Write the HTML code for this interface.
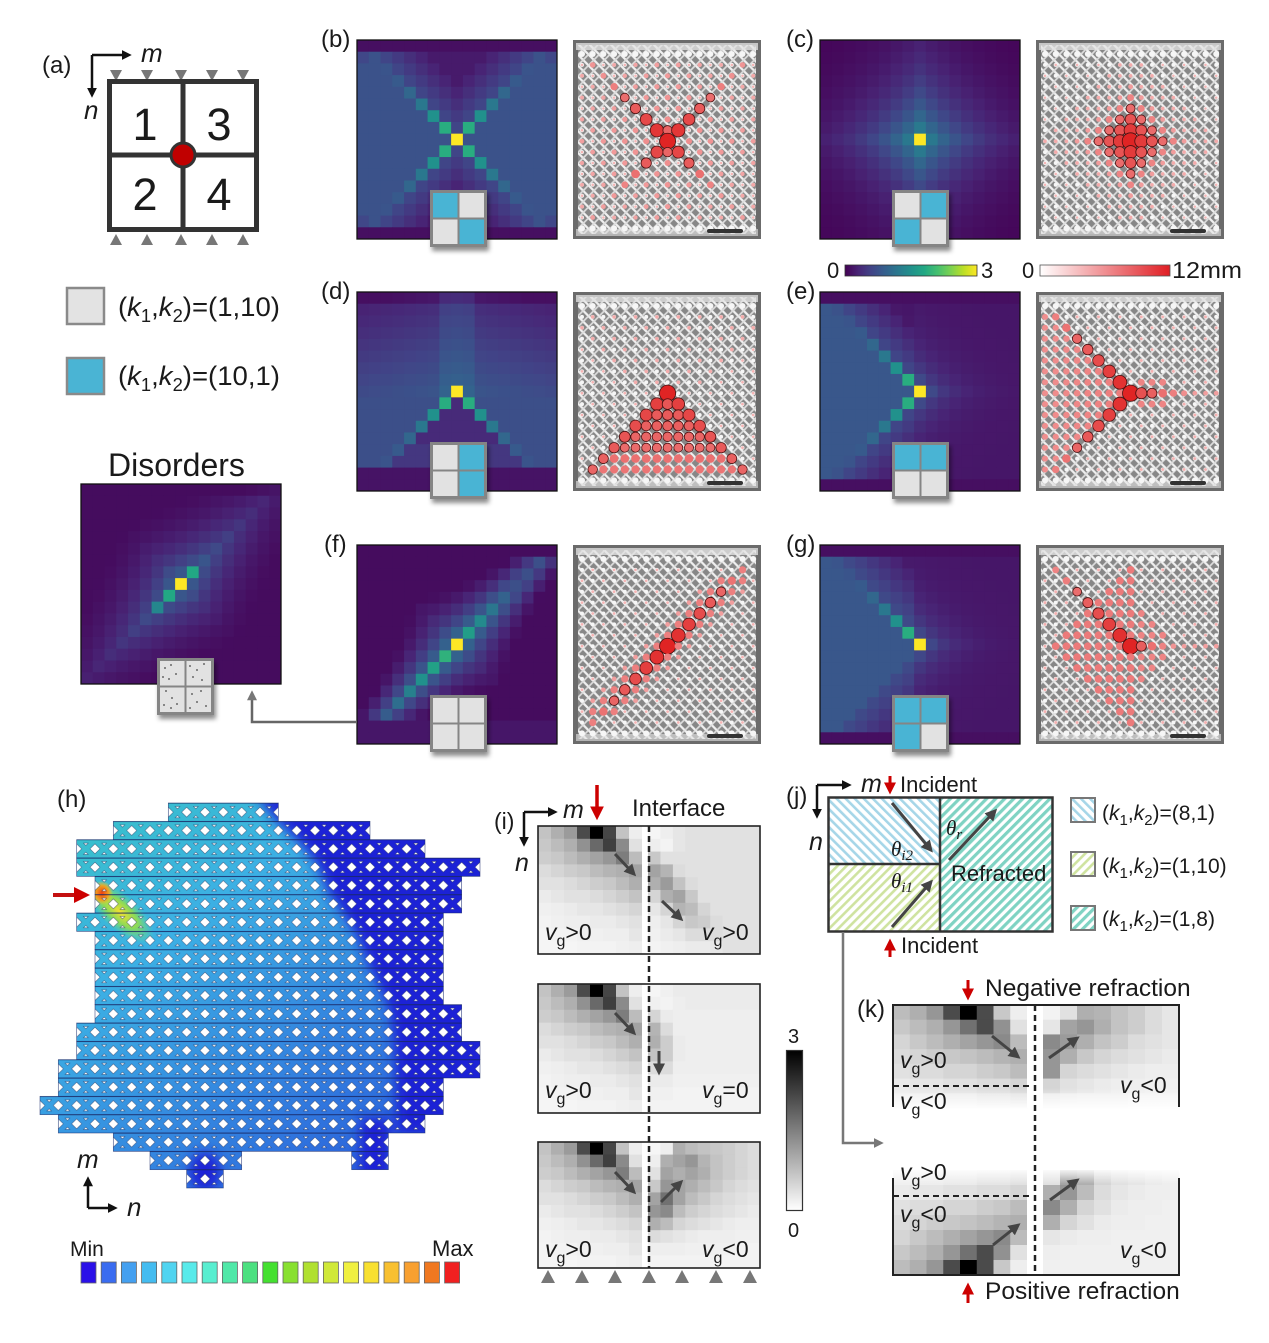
<!DOCTYPE html>
<html><head><meta charset="utf-8">
<style>
html,body{margin:0;padding:0;background:#fff;}
svg{display:block;}
text{font-family:"Liberation Sans",Arial,sans-serif;fill:#1a1a1a;}
.it{font-style:italic;}
.th{font-family:"Liberation Serif",serif;font-style:italic;}
</style></head><body>
<svg id="s" width="1269" height="1343" viewBox="0 0 1269 1343" xmlns="http://www.w3.org/2000/svg">
<defs>
 <linearGradient id="gvir" x1="0" x2="1" y1="0" y2="0">
  <stop offset="0" stop-color="#440154"/><stop offset="0.1" stop-color="#482475"/><stop offset="0.2" stop-color="#414487"/><stop offset="0.3" stop-color="#355f8d"/><stop offset="0.4" stop-color="#2a788e"/><stop offset="0.5" stop-color="#21918c"/><stop offset="0.6" stop-color="#22a884"/><stop offset="0.7" stop-color="#44bf70"/><stop offset="0.8" stop-color="#7ad151"/><stop offset="0.9" stop-color="#bddf26"/><stop offset="1" stop-color="#fde725"/>
 </linearGradient>
 <linearGradient id="gred" x1="0" x2="1" y1="0" y2="0"><stop offset="0" stop-color="#ffffff"/><stop offset="1" stop-color="#e01e24"/></linearGradient>
 <linearGradient id="ggray" x1="0" x2="0" y1="0" y2="1"><stop offset="0" stop-color="#000"/><stop offset="1" stop-color="#fff"/></linearGradient>
 <linearGradient id="fadeDown" x1="0" x2="0" y1="0" y2="1"><stop offset="0" stop-color="#fff" stop-opacity="0"/><stop offset="1" stop-color="#fff" stop-opacity="1"/></linearGradient>
 <linearGradient id="fadeUp" x1="0" x2="0" y1="1" y2="0"><stop offset="0" stop-color="#fff" stop-opacity="0"/><stop offset="1" stop-color="#fff" stop-opacity="1"/></linearGradient>
 <linearGradient id="hgrad" gradientUnits="userSpaceOnUse" x1="60" y1="820" x2="330" y2="1180">
  <stop offset="0" stop-color="#38c2c8"/><stop offset="0.35" stop-color="#3cb0e4"/><stop offset="0.7" stop-color="#3488e0"/><stop offset="1" stop-color="#2c66dc"/>
 </linearGradient>
 <radialGradient id="hot1"><stop offset="0" stop-color="#f2e030"/><stop offset="0.5" stop-color="#9ae040" stop-opacity="0.85"/><stop offset="1" stop-color="#50e0a0" stop-opacity="0"/></radialGradient>
 <radialGradient id="hot2"><stop offset="0" stop-color="#f04010"/><stop offset="0.6" stop-color="#f0a020"/><stop offset="1" stop-color="#f0d030" stop-opacity="0"/></radialGradient>
 <filter id="blur6" x="-20%" y="-20%" width="140%" height="140%"><feGaussianBlur stdDeviation="6"/></filter>
 <filter id="sh" x="-30%" y="-30%" width="160%" height="170%"><feDropShadow dx="2" dy="4" stdDeviation="2.5" flood-color="#000" flood-opacity="0.45"/></filter>
 <pattern id="latp" patternUnits="userSpaceOnUse" width="10.7" height="10.9">
  <line x1="-1" y1="-1" x2="11.7" y2="11.9" stroke="#f0f0f0" stroke-width="2.2"/>
  <line x1="11.7" y1="-1" x2="-1" y2="11.9" stroke="#dcdcdc" stroke-width="1.8"/>
 </pattern>
 <pattern id="hp" patternUnits="userSpaceOnUse" x="40" y="803" width="18.333" height="18.333">
  <g fill="#fff" stroke="#1b2550" stroke-width="0.5" stroke-opacity="0.7">
   <polygon points="-5.0,9.17 0,4.2 5.0,9.17 0,14.1"/>
   <polygon points="13.33,9.17 18.333,4.2 23.33,9.17 18.333,14.1"/>
   <polygon points="6.8,3.5 11.53,3.5 9.17,5.8"/>
   <polygon points="6.8,14.8 11.53,14.8 9.17,12.5"/>
  </g>
  <line x1="0" y1="0.3" x2="18.333" y2="0.3" stroke="#1b2550" stroke-width="0.6" stroke-opacity="0.6"/>
 </pattern>
 <pattern id="pblue" patternUnits="userSpaceOnUse" width="6.4" height="6.4" patternTransform="rotate(-45)">
  <rect width="6.4" height="6.4" fill="#fff"/><rect width="2.6" height="6.4" fill="#a6d6e8"/>
 </pattern>
 <pattern id="pgreen" patternUnits="userSpaceOnUse" width="6.4" height="6.4" patternTransform="rotate(45)">
  <rect width="6.4" height="6.4" fill="#fff"/><rect width="2.6" height="6.4" fill="#cfe3a0"/>
 </pattern>
 <pattern id="pteal" patternUnits="userSpaceOnUse" width="6.4" height="6.4" patternTransform="rotate(45)">
  <rect width="6.4" height="6.4" fill="#fff"/><rect width="3.2" height="6.4" fill="#7fd3c3"/>
 </pattern>
 <marker id="ahk" markerWidth="4" markerHeight="4" refX="2.5" refY="2" orient="auto" markerUnits="strokeWidth"><path d="M0,0 L4,2 L0,4 z" fill="#111"/></marker>
 <marker id="ahd" markerWidth="4" markerHeight="4" refX="2.5" refY="2" orient="auto" markerUnits="strokeWidth"><path d="M0,0 L4,2 L0,4 z" fill="#444"/></marker>
 <marker id="ahg" markerWidth="4" markerHeight="4" refX="2.5" refY="2" orient="auto" markerUnits="strokeWidth"><path d="M0,0 L4,2 L0,4 z" fill="#777"/></marker>
 <marker id="ahr" markerWidth="4" markerHeight="4" refX="2.5" refY="2" orient="auto" markerUnits="strokeWidth"><path d="M0,0 L4,2 L0,4 z" fill="#c00"/></marker>
 <clipPath id="hclip"></clipPath>
</defs>

<g id="dyn"></g>

<!-- ===== Panel (a) ===== -->
<text x="42" y="73" font-size="24">(a)</text>
<g fill="#777">
 <polygon points="110,70 122,70 116,81"/><polygon points="141,70 153,70 147,81"/><polygon points="175,70 187,70 181,81"/><polygon points="206,70 218,70 212,81"/><polygon points="237,70 249,70 243,81"/>
 <polygon points="110,245 122,245 116,234"/><polygon points="141,245 153,245 147,234"/><polygon points="175,245 187,245 181,234"/><polygon points="206,245 218,245 212,234"/><polygon points="237,245 249,245 243,234"/>
</g>
<rect x="109.5" y="81.5" width="147" height="148" fill="#fff" stroke="#333" stroke-width="5"/>
<line x1="183" y1="81" x2="183" y2="230" stroke="#333" stroke-width="5"/>
<line x1="109" y1="155" x2="257" y2="155" stroke="#333" stroke-width="5"/>
<circle cx="183" cy="155" r="12" fill="#c00000" stroke="#333" stroke-width="3"/>
<text x="145" y="140" font-size="45" text-anchor="middle">1</text>
<text x="219" y="140" font-size="45" text-anchor="middle">3</text>
<text x="145" y="210" font-size="45" text-anchor="middle">2</text>
<text x="219" y="210" font-size="45" text-anchor="middle">4</text>
<path d="M92,55 V94" stroke="#111" stroke-width="2.5" fill="none" marker-end="url(#ahk)"/>
<path d="M92,55 H128" stroke="#111" stroke-width="2.5" fill="none" marker-end="url(#ahk)"/>
<text x="141" y="62" font-size="26" class="it">m</text>
<text x="84" y="119" font-size="26" class="it">n</text>

<rect x="67" y="288" width="37" height="36" fill="#e3e3e3" stroke="#8a8a8a" stroke-width="2.5"/>
<rect x="67" y="358" width="37" height="36" fill="#4ab4d4" stroke="#8a8a8a" stroke-width="2.5"/>
<text x="118" y="316" font-size="27" textLength="162" lengthAdjust="spacingAndGlyphs">(<tspan class="it">k</tspan><tspan font-size="18" dy="6">1</tspan><tspan dy="-6">,</tspan><tspan class="it">k</tspan><tspan font-size="18" dy="6">2</tspan><tspan dy="-6">)=(1,10)</tspan></text>
<text x="118" y="385" font-size="27" textLength="162" lengthAdjust="spacingAndGlyphs">(<tspan class="it">k</tspan><tspan font-size="18" dy="6">1</tspan><tspan dy="-6">,</tspan><tspan class="it">k</tspan><tspan font-size="18" dy="6">2</tspan><tspan dy="-6">)=(10,1)</tspan></text>

<text x="108" y="476" font-size="32">Disorders</text>

<!-- panel labels -->
<text x="321" y="47" font-size="24">(b)</text>
<text x="786" y="47" font-size="24">(c)</text>
<text x="321" y="299" font-size="24">(d)</text>
<text x="786" y="299" font-size="24">(e)</text>
<text x="324" y="552" font-size="24">(f)</text>
<text x="786" y="552" font-size="24">(g)</text>

<!-- colorbars -->
<rect x="845" y="265" width="132" height="11" fill="url(#gvir)" stroke="#333" stroke-width="0.8"/>
<rect x="1040" y="265" width="130" height="11" fill="url(#gred)" stroke="#555" stroke-width="0.8"/>
<text x="827" y="278" font-size="22">0</text>
<text x="981" y="278" font-size="22">3</text>
<text x="1022" y="278" font-size="22">0</text>
<text x="1172" y="278" font-size="23" textLength="70" lengthAdjust="spacingAndGlyphs">12mm</text>

<!-- connector f -> disorders -->
<path d="M357,722 H252 V694" stroke="#666" stroke-width="2.5" fill="none" marker-end="url(#ahg)"/>

<!-- ===== Panel (h) ===== -->
<text x="57" y="807" font-size="24">(h)</text>
<g id="hgrp" clip-path="url(#hclip)">
 <rect x="30" y="795" width="470" height="400" fill="url(#hgrad)"/>
 <g filter="url(#blur6)" fill="#1e24d6">
  <polygon points="255,795 278,822 297,840 313,858 323,877 330,895 343,913 355,932 363,950 370,968 380,987 388,1005 392,1023 395,1060 397,1135 500,1135 500,795"/>
  <rect x="360" y="1118" width="30" height="80"/>
  <ellipse cx="205" cy="1172" rx="16" ry="20"/>
 </g>
 <ellipse cx="120" cy="912" rx="44" ry="18" transform="rotate(42 120 912)" fill="url(#hot1)"/>
 <ellipse cx="102" cy="893" rx="11" ry="12" fill="url(#hot2)"/>
 <rect x="30" y="795" width="470" height="400" fill="url(#hp)"/>
</g>
<g id="houtline"></g>
<path d="M53,895 H84" stroke="#c41010" stroke-width="4" fill="none" marker-end="url(#ahr)"/>
<path d="M88,1208 V1180" stroke="#111" stroke-width="2.5" fill="none" marker-end="url(#ahk)"/>
<path d="M88,1208 H114" stroke="#111" stroke-width="2.5" fill="none" marker-end="url(#ahk)"/>
<text x="77" y="1168" font-size="26" class="it">m</text>
<text x="127" y="1216" font-size="26" class="it">n</text>
<text x="70" y="1256" font-size="21">Min</text>
<text x="432" y="1256" font-size="22">Max</text>
<g id="hbar"></g>

<!-- ===== Panel (i) ===== -->
<text x="494" y="829" font-size="23">(i)</text>
<path d="M524,812 V843" stroke="#111" stroke-width="2.5" fill="none" marker-end="url(#ahk)"/>
<path d="M524,812 H554" stroke="#111" stroke-width="2.5" fill="none" marker-end="url(#ahk)"/>
<text x="563" y="818" font-size="25" class="it">m</text>
<text x="515" y="871" font-size="25" class="it">n</text>
<text x="632" y="816" font-size="24">Interface</text>
<path d="M597,785 V815" stroke="#c00" stroke-width="3.5" fill="none" marker-end="url(#ahr)"/>
<g id="ig"></g>
<line x1="649" y1="826" x2="649" y2="1268" stroke="#222" stroke-width="2.5" stroke-dasharray="6,4"/>
<g stroke="#444" stroke-width="3" fill="none">
 <path d="M615,854 L633,873" marker-end="url(#ahd)"/>
 <path d="M662,901 L680,918" marker-end="url(#ahd)"/>
 <path d="M615,1013 L633,1032" marker-end="url(#ahd)"/>
 <path d="M659,1051 V1071" marker-end="url(#ahd)"/>
 <path d="M615,1172 L633,1191" marker-end="url(#ahd)"/>
 <path d="M661,1202 L680,1183" marker-end="url(#ahd)"/>
</g>
<g font-size="23">
 <text x="545" y="940"><tspan class="it">v</tspan><tspan font-size="16" dy="6">g</tspan><tspan dy="-6">&gt;0</tspan></text>
 <text x="702" y="940"><tspan class="it">v</tspan><tspan font-size="16" dy="6">g</tspan><tspan dy="-6">&gt;0</tspan></text>
 <text x="545" y="1098"><tspan class="it">v</tspan><tspan font-size="16" dy="6">g</tspan><tspan dy="-6">&gt;0</tspan></text>
 <text x="702" y="1098"><tspan class="it">v</tspan><tspan font-size="16" dy="6">g</tspan><tspan dy="-6">=0</tspan></text>
 <text x="545" y="1257"><tspan class="it">v</tspan><tspan font-size="16" dy="6">g</tspan><tspan dy="-6">&gt;0</tspan></text>
 <text x="702" y="1257"><tspan class="it">v</tspan><tspan font-size="16" dy="6">g</tspan><tspan dy="-6">&lt;0</tspan></text>
</g>
<g fill="#777">
 <polygon points="541,1283 555,1283 548,1270"/><polygon points="575,1283 589,1283 582,1270"/><polygon points="608,1283 622,1283 615,1270"/><polygon points="642,1283 656,1283 649,1270"/><polygon points="675,1283 689,1283 682,1270"/><polygon points="709,1283 723,1283 716,1270"/><polygon points="743,1283 757,1283 750,1270"/>
</g>
<rect x="786.5" y="1050.5" width="16" height="160" fill="url(#ggray)" stroke="#333" stroke-width="1.2"/>
<text x="788" y="1043" font-size="20">3</text>
<text x="788" y="1237" font-size="20">0</text>

<!-- ===== Panel (j) ===== -->
<text x="786" y="804" font-size="24">(j)</text>
<path d="M817,785 V815" stroke="#111" stroke-width="2.5" fill="none" marker-end="url(#ahk)"/>
<path d="M817,785 H848" stroke="#111" stroke-width="2.5" fill="none" marker-end="url(#ahk)"/>
<text x="861" y="792" font-size="25" class="it">m</text>
<text x="809" y="850" font-size="25" class="it">n</text>
<path d="M890,776 V790" stroke="#c00" stroke-width="3" fill="none" marker-end="url(#ahr)"/>
<text x="900" y="792" font-size="22">Incident</text>
<rect x="828" y="797" width="112" height="67" fill="url(#pblue)"/>
<rect x="828" y="864" width="112" height="68" fill="url(#pgreen)"/>
<rect x="940" y="797" width="113" height="135" fill="url(#pteal)"/>
<rect x="828.5" y="797.5" width="224" height="134" fill="none" stroke="#333" stroke-width="2.5"/>
<line x1="940" y1="797" x2="940" y2="932" stroke="#333" stroke-width="2.5"/>
<line x1="828" y1="864" x2="940" y2="864" stroke="#333" stroke-width="2.5"/>
<g stroke="#444" stroke-width="3" fill="none">
 <path d="M892,803 L930,849" marker-end="url(#ahd)"/>
 <path d="M892,927 L930,883" marker-end="url(#ahd)"/>
 <path d="M949,860 L994,812" marker-end="url(#ahd)"/>
</g>
<text x="891" y="856" font-size="21" class="th">θ<tspan font-size="15" dy="4">i2</tspan></text>
<text x="946" y="835" font-size="21" class="th">θ<tspan font-size="15" dy="4">r</tspan></text>
<text x="891" y="888" font-size="21" class="th">θ<tspan font-size="15" dy="4">i1</tspan></text>
<text x="951" y="881" font-size="22">Refracted</text>
<path d="M890,957 V943" stroke="#c00" stroke-width="3" fill="none" marker-end="url(#ahr)"/>
<text x="901" y="953" font-size="22">Incident</text>
<rect x="1071" y="798" width="24" height="24" fill="url(#pblue)" stroke="#777" stroke-width="2"/>
<rect x="1071" y="852" width="24" height="24" fill="url(#pgreen)" stroke="#777" stroke-width="2"/>
<rect x="1071" y="906" width="24" height="24" fill="url(#pteal)" stroke="#777" stroke-width="2"/>
<g font-size="21">
<text x="1102" y="820">(<tspan class="it">k</tspan><tspan font-size="15" dy="5">1</tspan><tspan dy="-5">,</tspan><tspan class="it">k</tspan><tspan font-size="15" dy="5">2</tspan><tspan dy="-5">)=(8,1)</tspan></text>
<text x="1102" y="873">(<tspan class="it">k</tspan><tspan font-size="15" dy="5">1</tspan><tspan dy="-5">,</tspan><tspan class="it">k</tspan><tspan font-size="15" dy="5">2</tspan><tspan dy="-5">)=(1,10)</tspan></text>
<text x="1102" y="926">(<tspan class="it">k</tspan><tspan font-size="15" dy="5">1</tspan><tspan dy="-5">,</tspan><tspan class="it">k</tspan><tspan font-size="15" dy="5">2</tspan><tspan dy="-5">)=(1,8)</tspan></text>
</g>
<path d="M843,932 V1143 H880" stroke="#777" stroke-width="2.5" fill="none" marker-end="url(#ahg)"/>

<!-- ===== Panel (k) ===== -->
<text x="857" y="1017" font-size="24">(k)</text>
<path d="M968,980 V996" stroke="#c00" stroke-width="3" fill="none" marker-end="url(#ahr)"/>
<text x="985" y="996" font-size="24.5">Negative refraction</text>
<g id="kg"></g>
<rect x="893" y="1088" width="287" height="22" fill="url(#fadeDown)"/>
<rect x="893" y="1168" width="287" height="16" fill="url(#fadeUp)"/>
<g stroke="#222" stroke-width="2" fill="none">
 <path d="M893,1107 V1005 H1179 V1107"/>
 <path d="M893,1178 V1275 H1179 V1178"/>
</g>
<g stroke="#222" stroke-width="2" stroke-dasharray="6,4" fill="none">
 <line x1="893" y1="1086" x2="1032" y2="1086"/>
 <line x1="893" y1="1196" x2="1032" y2="1196"/>
</g>
<line x1="1035" y1="1005" x2="1035" y2="1275" stroke="#222" stroke-width="2.5" stroke-dasharray="6,4"/>
<g stroke="#444" stroke-width="3" fill="none">
 <path d="M992,1036 L1017,1056" marker-end="url(#ahd)"/>
 <path d="M1049,1058 L1076,1039" marker-end="url(#ahd)"/>
 <path d="M993,1245 L1017,1226" marker-end="url(#ahd)"/>
 <path d="M1050,1200 L1076,1181" marker-end="url(#ahd)"/>
</g>
<g font-size="23">
 <text x="900" y="1068"><tspan class="it">v</tspan><tspan font-size="16" dy="6">g</tspan><tspan dy="-6">&gt;0</tspan></text>
 <text x="900" y="1109"><tspan class="it">v</tspan><tspan font-size="16" dy="6">g</tspan><tspan dy="-6">&lt;0</tspan></text>
 <text x="1120" y="1093"><tspan class="it">v</tspan><tspan font-size="16" dy="6">g</tspan><tspan dy="-6">&lt;0</tspan></text>
 <text x="900" y="1180"><tspan class="it">v</tspan><tspan font-size="16" dy="6">g</tspan><tspan dy="-6">&gt;0</tspan></text>
 <text x="900" y="1222"><tspan class="it">v</tspan><tspan font-size="16" dy="6">g</tspan><tspan dy="-6">&lt;0</tspan></text>
 <text x="1120" y="1258"><tspan class="it">v</tspan><tspan font-size="16" dy="6">g</tspan><tspan dy="-6">&lt;0</tspan></text>
</g>
<path d="M968,1303 V1287" stroke="#c00" stroke-width="3" fill="none" marker-end="url(#ahr)"/>
<text x="985" y="1299" font-size="24.5">Positive refraction</text>
</svg>
<script>
(function(){
const NS='http://www.w3.org/2000/svg';
const D=document.getElementById('dyn');
function el(tag,attrs,parent){const e=document.createElementNS(NS,tag);for(const k in attrs)e.setAttribute(k,attrs[k]);(parent||D).appendChild(e);return e;}
const V=[[68,1,84],[72,36,117],[65,68,135],[53,95,141],[42,120,142],[33,145,140],[34,168,132],[68,191,112],[122,209,81],[189,223,38],[253,231,37]];
function vir(t){t=Math.max(0,Math.min(1,t));const x=t*10;const i=Math.min(9,Math.floor(x));const f=x-i;const a=V[i],b=V[i+1];
 return 'rgb('+Math.round(a[0]+(b[0]-a[0])*f)+','+Math.round(a[1]+(b[1]-a[1])*f)+','+Math.round(a[2]+(b[2]-a[2])*f)+')';}
function heat(x0,y0,w,h,fn){const n=17,cw=w/n,ch=h/n;
 for(let r=0;r<n;r++)for(let c=0;c<n;c++){el('rect',{x:(x0+c*cw).toFixed(2),y:(y0+r*ch).toFixed(2),width:(cw+0.5).toFixed(2),height:(ch+0.5).toFixed(2),fill:vir(fn(r-8,c-8,r,c))});}
 el('rect',{x:x0,y:y0,width:w,height:h,fill:'none',stroke:'#111','stroke-width':1.3});}
const ARM=[0,0.62,0.5,0.4,0.33,0.28,0.26,0.25,0.24];
const A=Math.abs;
function hb(dr,dc,r){const a=A(dr),b=A(dc);if(!a&&!b)return 1;if(r==0||r==16)return 0.04;
 if(a==b)return Math.max(ARM[a],a>=5?0.24:0);if(a<b)return 0.25-((r==1||r==15)?0.04:0);return Math.max(0.07,0.24-0.035*(a-b));}
function hc(dr,dc){const a=A(dr),b=A(dc);if(!a&&!b)return 1;const d=a*0.95+b;return Math.max(0.015,0.40*Math.exp(-(d-1)/4.6));}
function hd(dr,dc,r){const a=A(dr),b=A(dc);if(!a&&!b)return 1;if(r>=15)return 0.05;
 if(dr>0){if(b==dr)return ARM[a];if(b<dr)return a>=5?0.16:0.12;return 0.24;}
 let v=0.27-0.018*a-0.006*b;if(b<=1)v+=0.05;if(r==0)v-=0.05;return Math.max(0.04,v);}
function he(dr,dc,r){const a=A(dr),b=A(dc);if(!a&&!b)return 1;if(r==0||r==16)return 0.04;
 if(dc<0){if(a==b)return Math.max(ARM[a],0.25);if(a<b)return 0.27;return Math.max(0.06,0.24-0.035*(a-b));}
 return Math.max(0.04,0.06+0.25*Math.exp(-(a+b)/2.2));}
function hf(dr,dc,r){const a=A(dr),b=A(dc),p=A(dr+dc),q=A(dr-dc);if(!a&&!b)return 1;if(r==0)return 0.03;if(r>=15)return 0.06;
 if(p==0)return dr>0?Math.max(0.26,0.64-0.07*(a-1)):Math.max(0.24,0.55-0.08*(a-1));
 return Math.max(0.03,0.32*Math.exp(-(p-1)/3)-0.012*q);}
function hg(dr,dc,r){const a=A(dr),b=A(dc);if(!a&&!b)return 1;if(r==0||r==16)return 0.04;
 if(dr<0&&dc<0&&a==b)return Math.max(ARM[a],0.26);
 if(dc<0){if(a<=b)return 0.27;return Math.max(0.06,0.25-0.03*(a-b));}
 return Math.max(0.04,0.06+0.24*Math.exp(-(a+b)/2.2));}
function hdis(dr,dc,r){const a=A(dr),b=A(dc),p=A(dr+dc),q=A(dr-dc);if(!a&&!b)return 1;
 if(p==0&&a==1)return 0.6; if(p==0&&a==2&&dr>0)return 0.46;
 let v=0.38*Math.exp(-p/3.8-q/11);if(r==0)v*=0.6;return Math.max(0.03,v);}

function inset(x,y,q,dots){const g=el('g',{filter:'url(#sh)'});el('rect',{x:x,y:y,width:57,height:57,fill:'#858585'},g);
 const s=24.5,p=[[x+3,y+3],[x+29.5,y+3],[x+3,y+29.5],[x+29.5,y+29.5]];
 q.forEach(function(c,i){el('rect',{x:p[i][0],y:p[i][1],width:s,height:s,fill:c?'#4ab4d4':'#e2e2e2'},g);});
 if(dots){const pts=[[8,10],[14,7],[19,16],[6,19],[12,21],[33,8],[40,12],[47,6],[36,19],[45,22],[9,33],[15,40],[20,46],[7,47],[14,50],[35,36],[44,33],[40,44],[49,48],[33,50]];
  pts.forEach(function(t){el('circle',{cx:x+t[0],cy:y+t[1],r:0.9,fill:'#444'},g);});}}

function redc(r){let t=(r-1)/6.5;t=Math.max(0,Math.min(1,t));const a=[246,190,190],b=[224,36,36];
 return 'rgb('+Math.round(a[0]+(b[0]-a[0])*t)+','+Math.round(a[1]+(b[1]-a[1])*t)+','+Math.round(a[2]+(b[2]-a[2])*t)+')';}
function photo(x0,y0,fn){
 el('rect',{x:x0,y:y0,width:188,height:199,fill:'#6b6b6b'});
 el('rect',{x:x0+5,y:y0+5,width:178,height:189,fill:'#878787'});
 el('rect',{x:x0+5,y:y0+5,width:178,height:189,fill:'url(#latp)'});
 el('rect',{x:x0+3,y:y0+3,width:182,height:7,fill:'#e4e4e4',opacity:0.75});
 el('rect',{x:x0+3,y:y0+189,width:182,height:7,fill:'#e4e4e4',opacity:0.6});
 for(let i=0;i<17;i++)for(let j=0;j<17;j++){const cx=x0+9+j*10.7,cy=y0+14+i*10.9;
  el('circle',{cx:cx.toFixed(1),cy:cy.toFixed(1),r:(i==0||i==16)?3:2,fill:'#f6f6f6'});}
 for(let i=1;i<16;i++)for(let j=0;j<17;j++){let r=fn(i-8,j-8);if(r>0.8){r=r*1.08+0.2;const cx=x0+9+j*10.7,cy=y0+14+i*10.9;
  const o={cx:cx.toFixed(1),cy:cy.toFixed(1),r:r.toFixed(2),fill:redc(r)};if(r>4.4){o.stroke='#4a1010';o['stroke-width']=0.8;}el('circle',o);}}
 el('rect',{x:x0+134,y:y0+189,width:36,height:4,rx:2,fill:'#333'});
}
function pb(dr,dc){const a=A(dr),b=A(dc);if(!a&&!b)return 7.2;
 if(a==b)return dr<0?Math.max(2.4,6-0.7*(a-1)):Math.max(2,5.4-0.8*(a-1));
 if(b==0&&a==1)return 4.2;if((a+b)%2==0)return Math.max(1.6,2.8-0.1*(a+b));return 1.0;}
function pc(dr,dc){const a=A(dr),b=A(dc),d=a+b;if(d==0)return 7.6;if(d<=8)return Math.max(1.5,6.8-0.95*d);return (d%2==0)?1.0:0;}
function pd(dr,dc){const a=A(dr),b=A(dc);
 if(dr>=0&&dr<=7&&b<=dr){if(dr==0)return 7.3;if(b==dr)return Math.max(4.2,5.9-0.25*dr);return Math.max(3.4,5-0.2*dr);}
 if(dr<0&&(a+b)%2==0&&b<=a+2)return 1.5;return (a+b)%2==0?1.1:0;}
function pe(dr,dc){const a=A(dr),b=A(dc);if(!a&&!b)return 7.3;
 if(dc<0&&a==b)return Math.max(2.8,6.2-0.5*(a-1));if(dc<0&&a<b)return 3.4-0.1*b;
 if(dr==0&&dc>0)return Math.max(2,5.6-0.6*dc);if(dc>0&&a==1&&b<=3)return 3;return (a+b)%2==0?1.2:0;}
function pf(dr,dc){const a=A(dr),b=A(dc),p=A(dr+dc);if(!a&&!b)return 7.2;
 if(p==0)return Math.max(2.4,6.2-0.5*(a-1));if(p==1&&a<=6)return 3.2;if(p==2&&a<=5)return 2;return (a+b)%2==0?1.1:0;}
function pg(dr,dc){const a=A(dr),b=A(dc);if(!a&&!b)return 7.2;
 if(dr<0&&dc<0&&a==b)return Math.max(3,6.3-0.6*(a-1));if(dr==0&&dc>0)return Math.max(2,5.2-0.7*dc);
 if(dc<=0&&a+b<=7)return 3.4;if(dc>0&&a+b<=4)return 3;return (a+b)%2==0?1.2:0;}

heat(357,40,200,199,hb); heat(820,40,200,199,hc);
heat(357,292,200,199,hd); heat(820,292,200,199,he);
heat(357,545,200,199,hf); heat(820,545,200,199,hg);
heat(81,484,200,200,hdis);
photo(573,40,pb); photo(1036,40,pc); photo(573,292,pd); photo(1036,292,pe); photo(573,545,pf); photo(1036,545,pg);
inset(430,190,[1,0,0,1]); inset(892,190,[0,1,1,0]);
inset(430,442,[0,1,0,1]); inset(892,442,[1,1,0,0]);
inset(430,695,[0,0,0,0]); inset(892,695,[1,1,1,0]);
inset(157,658,[0,0,0,0],true);

/* ---- panel h lattice clip ---- */
const HR=[[[7,13]],[[4,18]],[[2,21]],[[2,24]],[[3,23]],[[3,23]],[[2,22]],[[3,22]],[[3,22]],[[3,22]],[[3,22]],[[3,23]],[[2,23]],[[2,24]],[[1,24]],[[1,22]],[[0,22]],[[1,21]],[[4,19]],[[6,11],[17,19]],[[8,10]]];
const cp=document.getElementById('hclip'),ho=document.getElementById('houtline');const s=18.333;
HR.forEach(function(segs,r){segs.forEach(function(sg){const x=40+sg[0]*s,y=803+r*s,w=(sg[1]-sg[0])*s;
 el('rect',{x:x.toFixed(2),y:y.toFixed(2),width:w.toFixed(2),height:s.toFixed(2)},cp);
 el('rect',{x:x.toFixed(2),y:y.toFixed(2),width:w.toFixed(2),height:s.toFixed(2),fill:'none',stroke:'#1b2a6a','stroke-width':0.7,'stroke-opacity':0.7},ho);});});
/* colour bar h */
const hb2=document.getElementById('hbar');
const HC=['#2a10e8','#3a6cf0','#44a0f0','#44bcf0','#50d4f0','#58eaea','#58eed0','#50e8a8','#4ce080','#44e030','#88e030','#b0e030','#d0e838','#f0f040','#f8e030','#f8c030','#f8a030','#f07820','#f02020'];
HC.forEach(function(c,i){el('rect',{x:(81+i*20.2).toFixed(1),y:1262,width:15,height:21,fill:c,stroke:'#666','stroke-width':0.8},hb2);});

/* ---- grayscale maps ---- */
function gcol(v){const g=Math.round(250-Math.max(0,Math.min(1,v))*250);return 'rgb('+g+','+g+','+g+')';}
function gmap(par,x0,y0,w,h,arr){const R=arr.length,C=arr[0].length,cw=w/C,ch=h/R;
 for(let r=0;r<R;r++)for(let c=0;c<C;c++)el('rect',{x:(x0+c*cw).toFixed(2),y:(y0+r*ch).toFixed(2),width:(cw+0.4).toFixed(2),height:(ch+0.4).toFixed(2),fill:gcol(arr[r][c])},par);}
const IL=[[.22,.30,.38,.70,1.0,.72,.22,.05],[.20,.25,.30,.42,.58,.75,.45,.10],[.18,.20,.25,.30,.35,.40,.50,.25],[.12,.15,.18,.20,.25,.28,.30,.35],[.10,.10,.12,.15,.18,.20,.25,.30],[.06,.08,.10,.10,.12,.15,.18,.22],[.04,.05,.06,.08,.08,.10,.12,.15],[.03,.04,.05,.05,.06,.06,.08,.10],[.02,.03,.03,.04,.04,.05,.05,.08],[.02,.02,.02,.03,.03,.03,.04,.05]];
const IR1=[[.02,.05,.08,.10,.10,.10,.10,.10,.10],[.05,.03,.08,.10,.10,.10,.10,.10,.10],[.20,.10,.10,.10,.10,.10,.10,.10,.10],[.35,.28,.12,.10,.10,.10,.10,.10,.10],[.30,.38,.22,.12,.10,.10,.10,.10,.10],[.15,.30,.35,.20,.10,.10,.10,.10,.10],[.08,.15,.28,.25,.15,.10,.10,.10,.10],[.05,.08,.15,.20,.18,.12,.10,.10,.10],[.04,.06,.08,.12,.12,.12,.10,.10,.10],[.03,.04,.05,.06,.06,.08,.10,.10,.10]];
const IR2=[[.02,.04,.06,.06,.06,.06,.06,.06,.06],[.04,.03,.05,.06,.06,.06,.06,.06,.06],[.15,.06,.05,.05,.05,.05,.05,.05,.05],[.28,.12,.05,.05,.05,.05,.05,.05,.05],[.30,.18,.06,.05,.05,.05,.05,.05,.05],[.22,.18,.06,.05,.05,.05,.05,.05,.05],[.12,.12,.05,.05,.05,.05,.05,.05,.05],[.06,.06,.04,.04,.04,.04,.04,.04,.04],[.04,.04,.03,.03,.03,.03,.03,.03,.03],[.03,.03,.03,.03,.03,.03,.03,.03,.03]];
const IR3=[[.02,.05,.30,.25,.22,.20,.18,.15,.12],[.05,.30,.35,.40,.28,.22,.18,.15,.12],[.10,.35,.30,.35,.30,.22,.18,.15,.12],[.20,.40,.35,.30,.25,.20,.15,.12,.10],[.35,.55,.35,.25,.20,.15,.12,.10,.08],[.40,.45,.25,.18,.15,.12,.10,.08,.06],[.30,.25,.15,.12,.10,.08,.06,.05,.05],[.12,.10,.08,.06,.05,.05,.05,.04,.04],[.05,.05,.05,.04,.04,.04,.04,.03,.03],[.03,.03,.03,.03,.03,.03,.03,.03,.03]];
const IG=document.getElementById('ig');
[[826,128,IR1],[984,129,IR2],[1142,126,IR3]].forEach(function(b){
 gmap(IG,538,b[0],104,b[1],IL); gmap(IG,648,b[0],112,b[1],b[2]);
 el('rect',{x:642,y:b[0],width:6,height:b[1],fill:'#fff'},IG);
 el('rect',{x:538,y:b[0],width:222,height:b[1],fill:'none',stroke:'#222','stroke-width':1.6},IG);});
const KTL=[[.25,.30,.40,.70,1.0,.70,.20,.05],[.20,.25,.30,.40,.55,.70,.42,.10],[.15,.20,.25,.30,.35,.40,.45,.25],[.12,.15,.18,.20,.22,.25,.28,.30],[.10,.12,.12,.15,.15,.18,.20,.25],[.06,.08,.08,.10,.10,.12,.12,.15],[.04,.05,.05,.06,.06,.08,.08,.10]];
const KTR=[[.03,.10,.30,.28,.22,.18,.12,.08],[.08,.35,.40,.30,.22,.18,.12,.08],[.45,.38,.30,.22,.18,.12,.10,.08],[.40,.30,.20,.15,.12,.10,.08,.06],[.40,.15,.12,.10,.08,.06,.05,.05],[.15,.10,.08,.06,.05,.05,.04,.04],[.06,.05,.04,.04,.04,.03,.03,.03]];
const KBL=KTL.slice().reverse();
const KBR=[[.10,.35,.30,.15,.10,.08,.06,.05],[.30,.40,.25,.12,.08,.06,.05,.05],[.45,.30,.15,.10,.06,.05,.05,.04],[.30,.15,.10,.06,.05,.05,.04,.04],[.08,.06,.05,.05,.04,.04,.04,.04],[.05,.04,.04,.04,.04,.04,.04,.04],[.04,.04,.04,.04,.04,.04,.04,.04]];
const KG=document.getElementById('kg');
gmap(KG,893,1005,134,103,KTL); gmap(KG,1043,1005,136,103,KTR);
gmap(KG,893,1170,134,105,KBL); gmap(KG,1043,1170,136,105,KBR);
el('rect',{x:1027,y:1005,width:16,height:103,fill:'#fff'},KG);
el('rect',{x:1027,y:1170,width:16,height:105,fill:'#fff'},KG);
})();
</script>
</body></html>
